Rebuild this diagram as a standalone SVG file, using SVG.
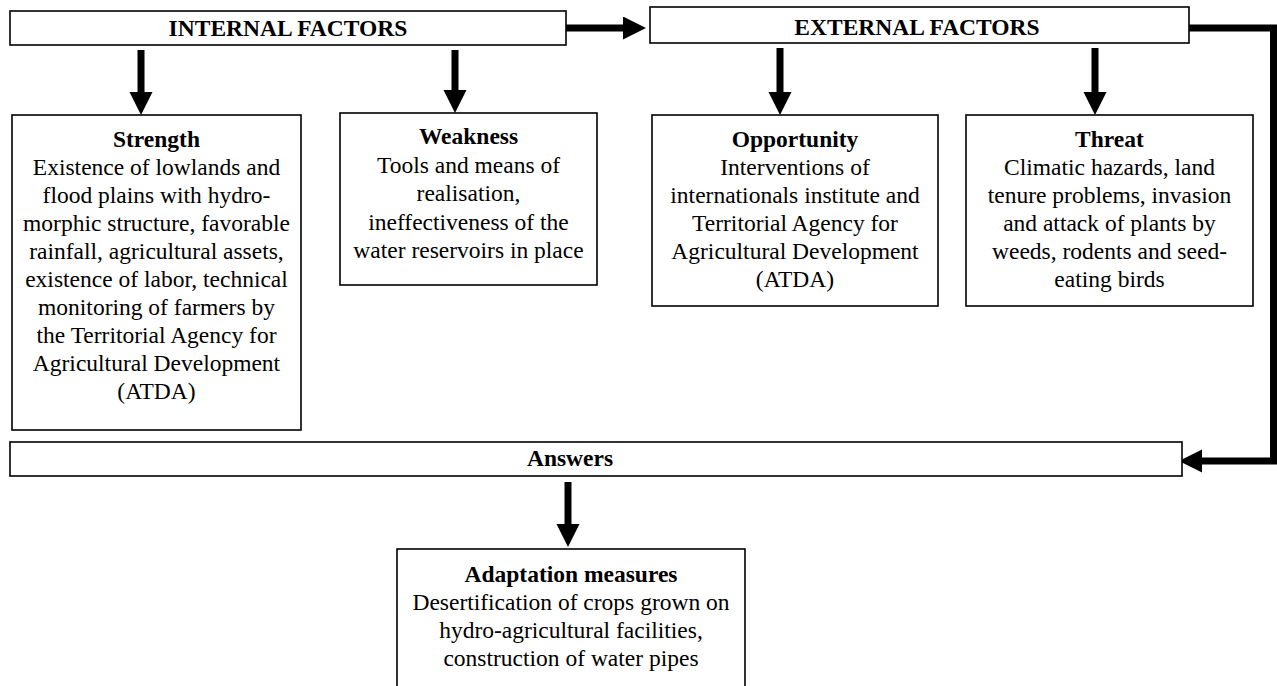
<svg xmlns="http://www.w3.org/2000/svg" width="1277" height="686" viewBox="0 0 1277 686">
  <style>
    .box { fill: #ffffff; stroke: #000000; stroke-width: 1.6; }
    text { font-family: "Liberation Serif", "Times New Roman", serif; font-size: 23.5px; fill: #000000; text-anchor: middle; }
    .b { font-weight: bold; }
    .conn { fill: none; stroke: #000000; stroke-width: 7; stroke-linejoin: miter; marker-end: url(#head); }
  </style>
  <defs>
    <marker id="head" markerUnits="userSpaceOnUse" markerWidth="24" markerHeight="24" refX="0" refY="11.5" orient="auto">
      <path d="M0,0 L23,11.5 L0,23 Z" fill="#000000"/>
    </marker>
  </defs>
  <rect width="1277" height="686" fill="#ffffff"/>

  <g id="connectors">
    <path class="conn" d="M566,28 H623"/>
    <path class="conn" d="M1189,28 H1273.5 V461 H1202"/>
    <path class="conn" d="M141,50 V92"/>
    <path class="conn" d="M455,50 V90"/>
    <path class="conn" d="M780,48 V92"/>
    <path class="conn" d="M1095,48 V92"/>
    <path class="conn" d="M568,482 V524"/>
  </g>

  <g id="internal">
    <rect class="box" x="10" y="11" width="556" height="34"/>
    <text class="b" x="288" y="36">INTERNAL FACTORS</text>
  </g>

  <g id="external">
    <rect class="box" x="650" y="7" width="539" height="36"/>
    <text class="b" x="917" y="35">EXTERNAL FACTORS</text>
  </g>

  <g id="strength">
    <rect class="box" x="12" y="115" width="289" height="315"/>
    <text class="b" x="156.5" y="147">Strength</text>
    <text x="156.5" y="175">Existence of lowlands and</text>
    <text x="156.5" y="203">flood plains with hydro-</text>
    <text x="156.5" y="231">morphic structure, favorable</text>
    <text x="156.5" y="259">rainfall, agricultural  assets,</text>
    <text x="156.5" y="287">existence of labor, technical</text>
    <text x="156.5" y="315">monitoring of farmers by</text>
    <text x="156.5" y="343">the Territorial  Agency for</text>
    <text x="156.5" y="371">Agricultural Development</text>
    <text x="156.5" y="399">(ATDA)</text>
  </g>

  <g id="weakness">
    <rect class="box" x="340" y="113" width="257" height="172"/>
    <text class="b" x="468.5" y="144">Weakness</text>
    <text x="468.5" y="172.5">Tools and means of</text>
    <text x="468.5" y="201">realisation,</text>
    <text x="468.5" y="229.5">ineffectiveness  of the</text>
    <text x="468.5" y="258">water reservoirs in place</text>
  </g>

  <g id="opportunity">
    <rect class="box" x="652" y="115" width="286" height="191"/>
    <text class="b" x="795" y="147">Opportunity</text>
    <text x="795" y="175">Interventions of</text>
    <text x="795" y="203">internationals  institute  and</text>
    <text x="795" y="231">Territorial Agency for</text>
    <text x="795" y="259">Agricultural Development</text>
    <text x="795" y="287">(ATDA)</text>
  </g>

  <g id="threat">
    <rect class="box" x="966" y="115" width="287" height="191"/>
    <text class="b" x="1109.5" y="147">Threat</text>
    <text x="1109.5" y="175">Climatic hazards, land</text>
    <text x="1109.5" y="203">tenure problems, invasion</text>
    <text x="1109.5" y="231">and attack of plants by</text>
    <text x="1109.5" y="259">weeds, rodents and seed-</text>
    <text x="1109.5" y="287">eating birds</text>
  </g>

  <g id="answers">
    <rect class="box" x="10" y="442" width="1172" height="34"/>
    <text class="b" x="570" y="466">Answers</text>
  </g>

  <g id="adaptation">
    <rect class="box" x="397" y="549" width="348" height="160"/>
    <text class="b" x="571" y="582">Adaptation measures</text>
    <text x="571" y="610">Desertification of crops grown on</text>
    <text x="571" y="638">hydro-agricultural  facilities,</text>
    <text x="571" y="666">construction  of water pipes</text>
  </g>
</svg>
